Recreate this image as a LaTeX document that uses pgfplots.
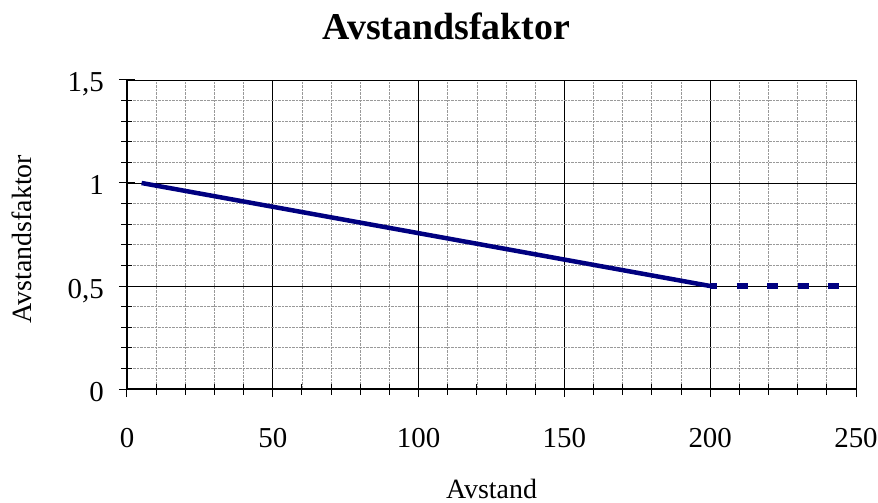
\documentclass[border=0pt]{standalone}
\usepackage{fontspec}
\setmainfont{Liberation Serif}
\usepackage{pgfplots}
\pgfplotsset{compat=1.18}
\definecolor{linenavy}{RGB}{0,0,128}
\begin{document}
\begin{tikzpicture}
\useasboundingbox (-127bp,-114bp) rectangle (751bp,389bp);
\begin{axis}[
    at={(0,0)}, anchor=origin,
    scale only axis,
    width=729bp, height=309bp,
    xmin=0, xmax=250, ymin=0, ymax=1.5,
    axis lines*=left,
    axis line style={black, line width=1.2bp},
    xtick={0,50,...,250}, ytick={0,0.5,1,1.5},
    minor tick num=4,
    grid=both,
    major grid style={black, line width=0.7bp},
    minor grid style={gray!80, densely dotted, line width=0.8bp},
    tick align=center,
    major tick length=16bp, minor tick length=11bp,
    tick style={black, line width=1bp},
    /pgf/number format/assume math mode=true,
    /pgf/number format/use comma,
    ticklabel style={font=\fontsize{29}{32}\selectfont, inner sep=0pt},
    xticklabel style={anchor=base, yshift=-50bp},
    yticklabel style={anchor=base east, xshift=-15bp, yshift=-12bp},
    every axis title/.style={at={(0.438,1)}, anchor=base, yshift=40bp,
        font=\fontsize{38}{42}\selectfont\bfseries},
    title={Avstandsfaktor},
    every axis x label/.style={at={(0.5,0)}, anchor=base, yshift=-109bp,
        font=\fontsize{28}{30}\selectfont},
    xlabel={Avstand},
    every axis y label/.style={at={(0,0.485)}, xshift=-95bp, rotate=90, anchor=base,
        font=\fontsize{28}{30}\selectfont},
    ylabel={Avstandsfaktor},
]
\addplot[linenavy, line width=4.5bp, line cap=butt] coordinates {(5,1) (200,0.5)};
\addplot[linenavy, line width=5bp, line cap=butt, dash pattern=on 11bp off 19.5bp, dash phase=4bp]
    coordinates {(200,0.5) (245,0.5)};
\end{axis}
\end{tikzpicture}
\end{document}
